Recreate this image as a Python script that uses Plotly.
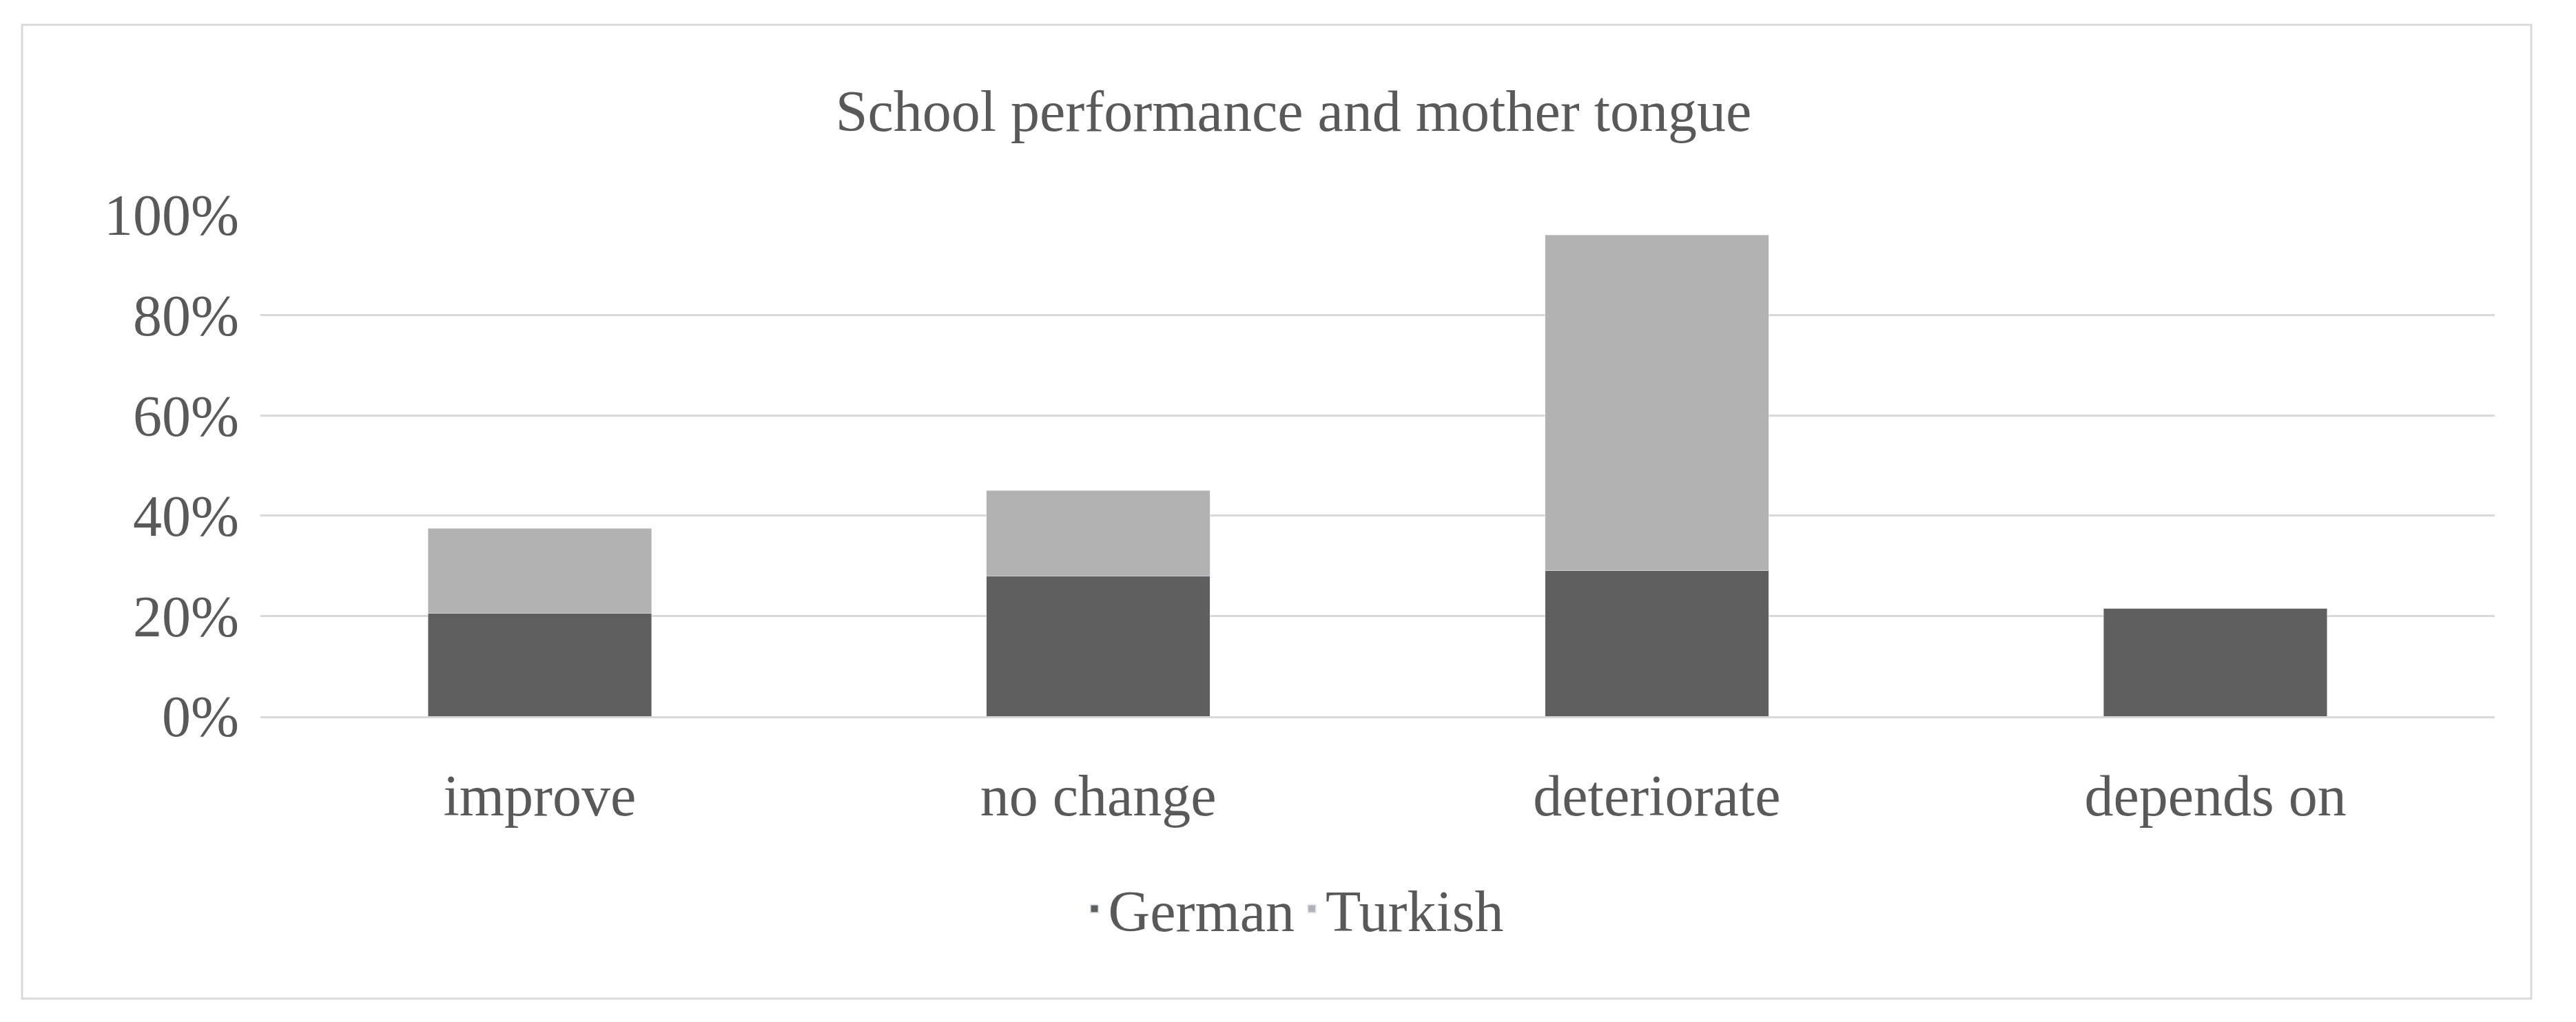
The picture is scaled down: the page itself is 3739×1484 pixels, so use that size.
import plotly.graph_objects as go

categories = ["improve", "no change", "deteriorate", "depends on"]
german = [20.5, 28, 29, 21.5]
turkish = [17, 17, 67, 0]

F = "Liberation Serif, Times New Roman, serif"
fig = go.Figure()
fig.add_bar(x=categories, y=german, name="German", marker_color="#5f5f5f", width=0.4)
fig.add_bar(x=categories, y=turkish, name="Turkish", marker_color="#b2b2b2", width=0.4)

L, R, T, B = 370, 126, 304, 452
W, H = 3739, 1484
pw, ph = W - L - R, H - T - B
def px(x): return (x - L) / pw
def py(y): return (H - B - y) / ph

fig.update_layout(
    barmode="stack", width=W, height=H,
    margin=dict(l=L, r=R, t=T, b=B),
    paper_bgcolor="white", plot_bgcolor="white",
    font=dict(family=F, color="#595959", size=84),
    title=dict(text="School performance and mother tongue", x=0.5, xanchor="center",
               y=1 - 153 / H, yanchor="middle", font=dict(size=84, color="#595959")),
    legend=dict(orientation="h", x=px(1870), xanchor="center", y=py(1312), yanchor="middle",
                font=dict(size=84), itemsizing="constant", traceorder="normal"),
    bargap=0.6,
    xaxis=dict(showline=True, linecolor="#d9d9d9", linewidth=3, ticks="",
               tickfont=dict(size=84), ticklabelstandoff=40),
    yaxis=dict(range=[0, 100], dtick=20, ticksuffix="%", gridcolor="#d9d9d9", gridwidth=3,
               zeroline=False, tickfont=dict(size=84), ticklabelstandoff=30),
    shapes=[dict(type="rect", xref="paper", yref="paper",
                 x0=px(24), x1=px(3666), y0=py(1442), y1=py(28),
                 line=dict(color="#d9d9d9", width=3), layer="below")],
)
fig.write_html("out.html")
